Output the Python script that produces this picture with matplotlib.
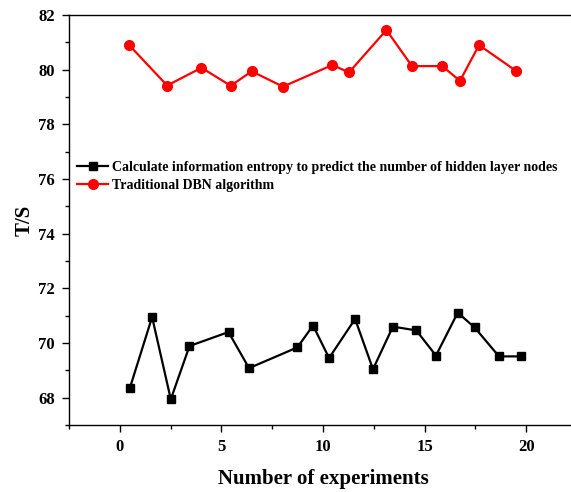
import matplotlib.pyplot as plt
from matplotlib.ticker import MultipleLocator

plt.rcParams['font.family'] = ['Liberation Serif', 'DejaVu Serif']
plt.rcParams['font.weight'] = 'bold'

# --- Data ---
entropy_x = [0.49, 1.59, 2.51, 3.43, 5.35, 6.36, 8.74, 9.51, 10.30, 11.58,
             12.46, 13.44, 14.59, 15.56, 16.63, 17.46, 18.66, 19.72]
entropy_y = [68.34, 70.95, 67.94, 69.89, 70.40, 69.08, 69.84, 70.64, 69.45, 70.88,
             69.04, 70.60, 70.46, 69.54, 71.11, 70.57, 69.51, 69.51]

dbn_x = [0.46, 2.33, 4.02, 5.46, 6.49, 8.03, 10.46, 11.28, 13.12, 14.38,
         15.87, 16.74, 17.68, 19.49]
dbn_y = [80.90, 79.42, 80.07, 79.41, 79.94, 79.38, 80.17, 79.90, 81.45, 80.13,
         80.13, 79.59, 80.90, 79.96]

fig = plt.figure(figsize=(5.71, 4.92), dpi=100)
ax = fig.add_axes([69 / 571, 1 - 425 / 492, 508 / 571, 410 / 492])

ax.plot(entropy_x, entropy_y, color='black', marker='s', markersize=6, lw=1.6,
        label='Calculate information entropy to predict the number of hidden layer nodes')
ax.plot(dbn_x, dbn_y, color='red', marker='o', markersize=7, lw=1.6,
        label='Traditional DBN algorithm')

ax.set_xlim(-2.5, 22.5)
ax.set_ylim(67, 82)
ax.xaxis.set_major_locator(MultipleLocator(5))
ax.xaxis.set_minor_locator(MultipleLocator(2.5))
ax.yaxis.set_major_locator(MultipleLocator(2))
ax.yaxis.set_minor_locator(MultipleLocator(1))
ax.tick_params(which='major', direction='out', length=5, width=1, labelsize=12, pad=5)
ax.tick_params(which='minor', direction='out', length=3, width=1)
for s in ax.spines.values():
    s.set_linewidth(1)

ax.set_xlabel('Number of experiments', fontsize=15, fontweight='bold', labelpad=10)
ax.set_ylabel('T/S', fontsize=15, fontweight='bold', labelpad=3)

ax.legend(loc='upper left', bbox_to_anchor=(0.0, 0.665), frameon=False,
          handlelength=2.2, handletextpad=0.3, labelspacing=0.35,
          borderaxespad=0.2, prop={'weight': 'bold', 'size': 10})

fig.savefig('out.png', dpi=100)
